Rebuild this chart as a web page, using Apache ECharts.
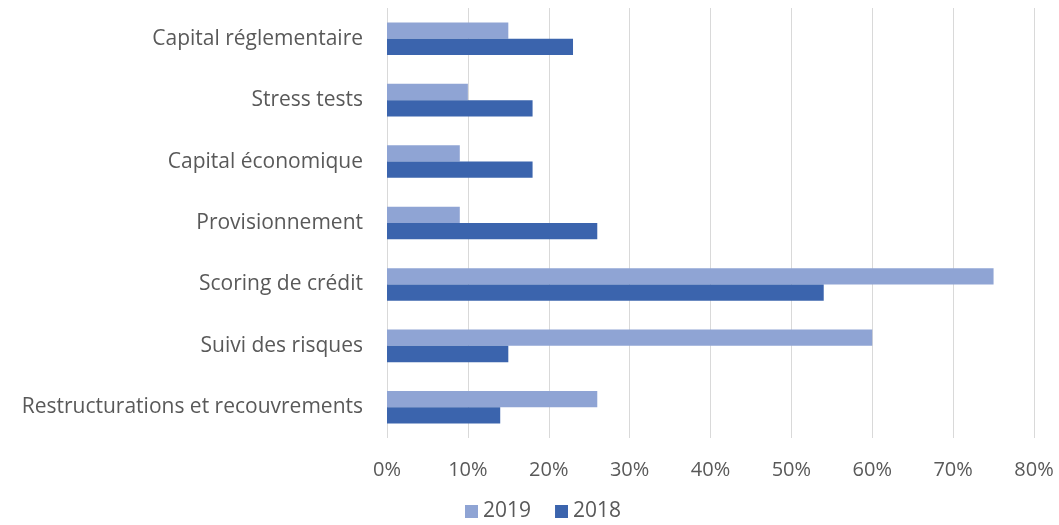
<!DOCTYPE html>
<html>
<head>
<meta charset="utf-8">
<script src="https://cdn.jsdelivr.net/npm/echarts@6/dist/echarts.min.js"></script>
<style>
html, body { margin: 0; padding: 0; background: #fff; }
#chart { width: 1059px; height: 525px; }
</style>
</head>
<body>
<div id="chart"></div>
<script>
var categories = ['Capital réglementaire', 'Stress tests', 'Capital économique', 'Provisionnement',
    'Scoring de crédit', 'Suivi des risques', 'Restructurations et recouvrements'];
var values2019 = [15, 10, 9, 9, 75, 60, 26];
var values2018 = [23, 18, 18, 26, 54, 15, 14];
var xTicks = [0, 10, 20, 30, 40, 50, 60, 70, 80];

var textColor = '#595959';
var fontFamily = '"Open Sans", "Noto Sans", sans-serif';

var myChart = echarts.init(document.getElementById('chart'));
var option = {
    animation: false,
    textStyle: { fontFamily: fontFamily },
    grid: { left: 387, right: 25, top: 8, bottom: 87 },
    legend: {
        data: ['2019', '2018'],
        bottom: -2,
        left: 460,
        itemWidth: 13,
        itemHeight: 13,
        itemGap: 24,
        icon: 'rect',
        textStyle: { color: textColor, fontSize: 21, fontFamily: fontFamily }
    },
    xAxis: {
        type: 'value',
        min: xTicks[0],
        max: xTicks[xTicks.length - 1],
        interval: 10,
        axisLine: { show: false },
        axisTick: { show: false },
        axisLabel: {
            color: textColor, fontSize: 20, margin: 22,
            formatter: function (v) { return v + '%'; }
        },
        splitLine: { lineStyle: { color: '#d9d9d9', width: 1 } }
    },
    yAxis: {
        type: 'category',
        inverse: true,
        data: categories,
        axisLine: { show: false },
        axisTick: { show: false },
        axisLabel: { color: textColor, fontSize: 21, margin: 24 }
    },
    series: [
        {
            name: '2019', type: 'bar', data: values2019,
            barGap: 0, barCategoryGap: '47%',
            itemStyle: { color: '#8fa4d4' }
        },
        {
            name: '2018', type: 'bar', data: values2018,
            barGap: 0, barCategoryGap: '47%',
            itemStyle: { color: '#3b64ad' }
        }
    ]
};
myChart.setOption(option);
</script>
</body>
</html>
